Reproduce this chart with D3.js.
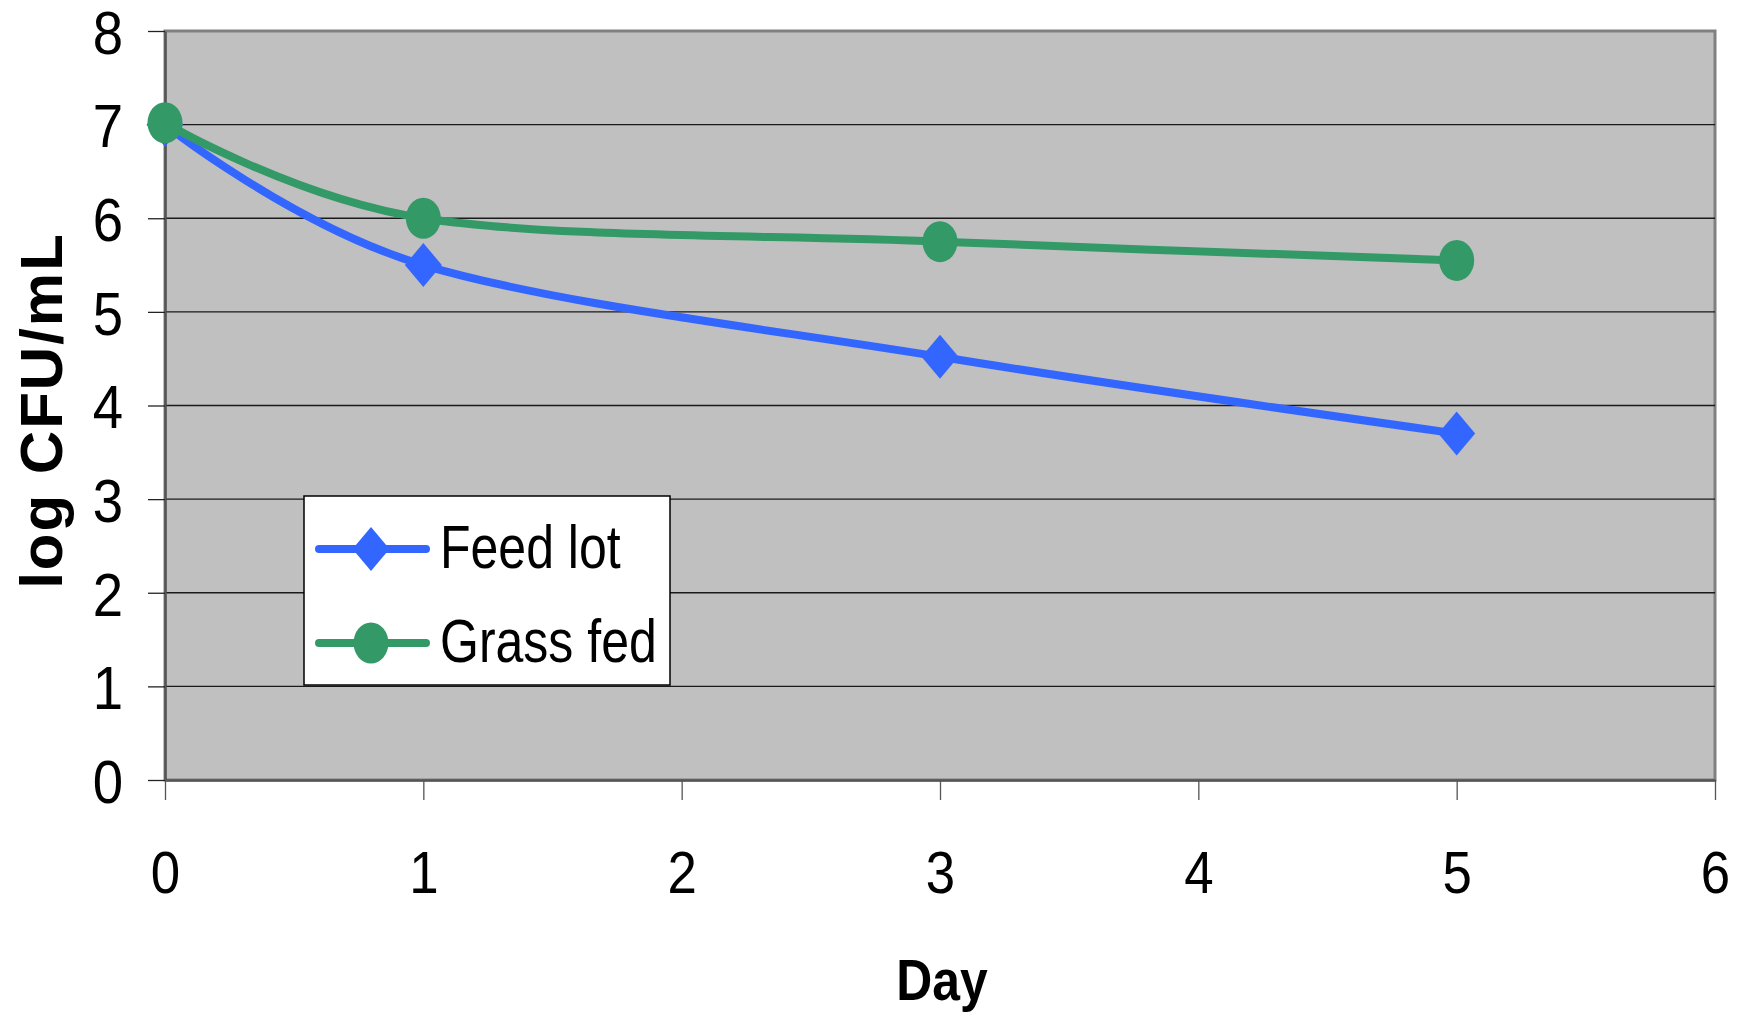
<!DOCTYPE html>
<html>
<head>
<meta charset="utf-8">
<script src="https://cdn.jsdelivr.net/npm/d3@7"></script>
<style>
  body { margin: 0; background: #fff; }
  svg text { font-family: "Liberation Sans", Arial, sans-serif; fill: #000; }
</style>
</head>
<body>
<div id="chart"></div>
<script>
// Data
const days = [0, 1, 3, 5];
const feedLot = [7.0, 5.5, 4.52, 3.7];
const grassFed = [7.02, 6.0, 5.75, 5.55];
const seriesNames = ['Feed lot', 'Grass fed'];
const xTicks = [0, 1, 2, 3, 4, 5, 6];
const yTicks = [0, 1, 2, 3, 4, 5, 6, 7, 8];

const config = {
  width: 1741,
  height: 1016,
  margin: { top: 31, bottom: 236, right: 26, left: 165 }
};

const width = config.width - config.margin.left - config.margin.right;
const height = config.height - config.margin.top - config.margin.bottom;
const sx = 0.88; // labels in the source look a little narrow

const svg = d3.select('#chart')
  .append('svg')
  .attr('width', config.width)
  .attr('height', config.height);

const g = svg.append('g')
  .attr('transform', `translate(${config.margin.left}, ${config.margin.top})`);

// Scales
const xScale = d3.scaleLinear().domain([0, 6]).range([0, width]);
const yScale = d3.scaleLinear().domain([0, 8]).range([height, 0]);

// Plot area
g.append('rect')
  .attr('width', width)
  .attr('height', height)
  .attr('fill', '#c0c0c0')
  .attr('stroke', '#808080')
  .attr('stroke-width', 3);

// Gridlines
g.selectAll('.grid')
  .data(yTicks.filter(d => d > 0 && d < 8))
  .join('line')
  .attr('class', 'grid')
  .attr('x1', 0)
  .attr('x2', width)
  .attr('y1', d => yScale(d))
  .attr('y2', d => yScale(d))
  .attr('stroke', '#1a1a1a')
  .attr('stroke-width', 1.3);

// Axes
const yAxis = d3.axisLeft(yScale).tickValues(yTicks).tickFormat(d3.format('d'))
  .tickSize(17).tickSizeOuter(0).tickPadding(25);
const xAxis = d3.axisBottom(xScale).tickValues(xTicks).tickFormat(d3.format('d'))
  .tickSize(20).tickSizeOuter(0).tickPadding(50);

const yAxisGroup = g.append('g').call(yAxis);
yAxisGroup.select('.domain').attr('stroke', '#555').attr('stroke-width', 2.5);
yAxisGroup.selectAll('.tick line').attr('stroke', '#222').attr('stroke-width', 1.3);
yAxisGroup.selectAll('.tick text')
  .attr('font-size', 62)
  .attr('x', -42 / sx)
  .attr('dy', '0.36em')
  .attr('transform', `scale(${sx},1)`);

const xAxisGroup = g.append('g')
  .attr('transform', `translate(0, ${height})`)
  .call(xAxis);
xAxisGroup.select('.domain').attr('stroke', '#555').attr('stroke-width', 2.5);
xAxisGroup.selectAll('.tick line').attr('stroke', '#555').attr('stroke-width', 1.3);
xAxisGroup.selectAll('.tick text')
  .attr('font-size', 60)
  .attr('transform', `scale(${sx},1)`);

// Axis titles
svg.append('text')
  .attr('transform', `translate(${config.margin.left + width / 2 + 2}, 1000) scale(0.86,1)`)
  .attr('text-anchor', 'middle')
  .attr('font-size', 58)
  .attr('font-weight', 'bold')
  .text('Day');

svg.append('text')
  .attr('transform', `translate(62, ${config.margin.top + height / 2 + 5}) rotate(-90)`)
  .attr('text-anchor', 'middle')
  .attr('font-size', 60)
  .attr('font-weight', 'bold')
  .attr('letter-spacing', 2)
  .text('log CFU/mL');

// Lines
const line = d3.line()
  .x(d => xScale(d.day))
  .y(d => yScale(d.value))
  .curve(d3.curveCatmullRom.alpha(0));

const series = [
  { name: seriesNames[0], color: '#3366ff', shape: 'diamond',
    values: days.map((d, i) => ({ day: d, value: feedLot[i] })) },
  { name: seriesNames[1], color: '#339966', shape: 'circle',
    values: days.map((d, i) => ({ day: d, value: grassFed[i] })) }
];

const diamond = 'M0,-22L18.5,0L0,22L-18.5,0Z';

function drawMarker(sel, s) {
  if (s.shape === 'diamond') {
    sel.append('path').attr('d', diamond).attr('fill', s.color);
  } else {
    sel.append('ellipse').attr('rx', 17.5).attr('ry', 20.5).attr('fill', s.color);
  }
}

series.forEach(s => {
  g.append('path')
    .datum(s.values)
    .attr('d', line)
    .attr('fill', 'none')
    .attr('stroke', s.color)
    .attr('stroke-width', 8);

  g.selectAll(null)
    .data(s.values)
    .join('g')
    .attr('transform', d => `translate(${xScale(d.day)}, ${yScale(d.value)})`)
    .each(function () { drawMarker(d3.select(this), s); });
});

// Legend
const legend = svg.append('g').attr('transform', 'translate(304, 496)');
legend.append('rect')
  .attr('width', 366)
  .attr('height', 189)
  .attr('fill', '#fff')
  .attr('stroke', '#000')
  .attr('stroke-width', 1.5);

series.forEach((s, i) => {
  const row = legend.append('g').attr('transform', `translate(0, ${53 + i * 94})`);
  row.append('line')
    .attr('x1', 15).attr('x2', 122)
    .attr('stroke', s.color)
    .attr('stroke-width', 8)
    .attr('stroke-linecap', 'round');
  const m = row.append('g').attr('transform', 'translate(67, 0)');
  drawMarker(m, s);
  row.append('text')
    .attr('transform', `translate(136, 19) scale(0.82,1)`)
    .attr('font-size', 61)
    .text(s.name);
});
</script>
</body>
</html>
